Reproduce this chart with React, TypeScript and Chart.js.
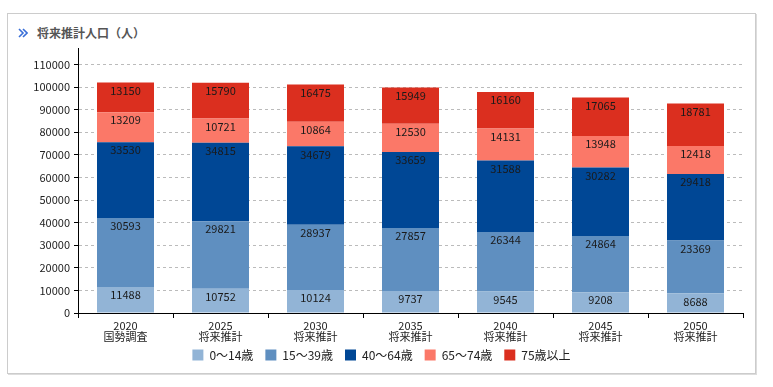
import React, { useEffect, useRef } from "react";
import { Chart, registerables } from "chart.js";

Chart.register(...registerables);

const years = ["2020", "2025", "2030", "2035", "2040", "2045", "2050"];
const kinds = ["国勢調査", "将来推計", "将来推計", "将来推計", "将来推計", "将来推計", "将来推計"];
const seriesNames = ["0～14歳", "15～39歳", "40～64歳", "65～74歳", "75歳以上"];
const age0to14 = [11488, 10752, 10124, 9737, 9545, 9208, 8688];
const age15to39 = [30593, 29821, 28937, 27857, 26344, 24864, 23369];
const age40to64 = [33530, 34815, 34679, 33659, 31588, 30282, 29418];
const age65to74 = [13209, 10721, 10864, 12530, 14131, 13948, 12418];
const age75plus = [13150, 15790, 16475, 15949, 16160, 17065, 18781];
const yTicks = [0, 10000, 20000, 30000, 40000, 50000, 60000, 70000, 80000, 90000, 100000, 110000];
const colors = ["#92b4d6", "#5f8fc0", "#004795", "#fb7868", "#db2f1f"];

const FONT = "'Noto Sans CJK JP', 'Noto Sans', sans-serif";

const labelPlugin = {
  id: "segLabels",
  afterUpdate(chart: any) {
    const lg = chart.legend;
    if (!lg) return;
    const shift = 5;
    lg.top -= shift;
    lg.bottom -= shift;
    (lg.legendHitBoxes || []).forEach((h: any) => {
      h.top -= shift;
    });
  },
  afterDatasetsDraw(chart: any) {
    const ctx = chart.ctx;
    ctx.save();
    ctx.font = `11px ${FONT}`;
    ctx.fillStyle = "#1a1a1a";
    ctx.textAlign = "center";
    ctx.textBaseline = "middle";
    chart.data.datasets.forEach((ds: any, i: number) => {
      const meta = chart.getDatasetMeta(i);
      meta.data.forEach((el: any, j: number) => {
        ctx.fillText(String(ds.data[j]), el.x, el.y + 8);
      });
    });
    ctx.restore();
  },
};

export default function App() {
  const ref = useRef<HTMLCanvasElement>(null);
  useEffect(() => {
    if (!ref.current) return;
    const data = [age0to14, age15to39, age40to64, age65to74, age75plus];
    const chart = new Chart(ref.current, {
      type: "bar",
      data: {
        labels: years.map((y, i) => [y, kinds[i]]),
        datasets: data.map((d, i) => ({
          label: seriesNames[i],
          data: d,
          backgroundColor: colors[i],
          borderWidth: 0,
          categoryPercentage: 0.6,
          barPercentage: 1,
        })),
      },
      options: {
        animation: false,
        responsive: false,
        maintainAspectRatio: false,
        layout: { padding: { top: 48, right: 30, left: 20, bottom: 11 } },
        plugins: {
          legend: {
            position: "bottom",
            labels: {
              boxWidth: 11,
              boxHeight: 11,
              padding: 12,
              color: "#222",
              font: { size: 12, family: FONT },
            },
          },
          tooltip: { enabled: false },
        },
        scales: {
          x: {
            stacked: true,
            grid: {
              offset: true,
              drawOnChartArea: false,
              drawTicks: true,
              tickLength: 5,
              color: "#000",
            },
            border: { color: "#000", width: 1 },
            ticks: {
              color: "#222",
              padding: 2,
              font: { size: 11, family: FONT, lineHeight: 1.0 },
              maxRotation: 0,
              autoSkip: false,
            },
            afterFit(scale: any) {
              scale.height = 29;
            },
          },
          y: {
            stacked: true,
            min: 0,
            max: 117265,
            afterBuildTicks(scale: any) {
              scale.ticks = yTicks.map((value) => ({ value }));
            },
            ticks: {
              color: "#222",
              padding: 4,
              font: { size: 11, family: FONT },
              callback: (v: any) => String(v),
            },
            grid: {
              color: "#bbbbbb",
              tickColor: "#000",
              tickBorderDash: [],
              tickLength: 4,
            } as any,
            border: { color: "#000", width: 1, dash: [3, 3] },
            afterFit(scale: any) {
              scale.width = 58;
            },
          },
        },
      } as any,
      plugins: [labelPlugin],
    });
    return () => chart.destroy();
  }, []);

  return (
    <div style={{ position: "fixed", left: 0, top: 0, width: 773, height: 387, background: "#fff" }}>
      <div
        style={{
          position: "absolute",
          left: 7,
          top: 13,
          width: 747,
          height: 359,
          border: "1px solid #cccccc",
          boxShadow: "1px 1px 0 #dddddd",
        }}
      />
      <svg style={{ position: "absolute", left: 18, top: 28 }} width={10} height={10}>
        <polyline points="1,1 5,5 1,9" fill="none" stroke="#3a6fd8" strokeWidth={1.6} />
        <polyline points="5,1 9,5 5,9" fill="none" stroke="#3a6fd8" strokeWidth={1.6} />
      </svg>
      <div
        style={{
          position: "absolute",
          left: 37,
          top: 25,
          fontFamily: FONT,
          fontSize: 12,
          fontWeight: "bold",
          color: "#555",
          lineHeight: "16px",
          whiteSpace: "nowrap",
        }}
      >
        将来推計人口（人）
      </div>
      <canvas ref={ref} width={773} height={387} style={{ position: "absolute", left: 0, top: 0 }} />
    </div>
  );
}
